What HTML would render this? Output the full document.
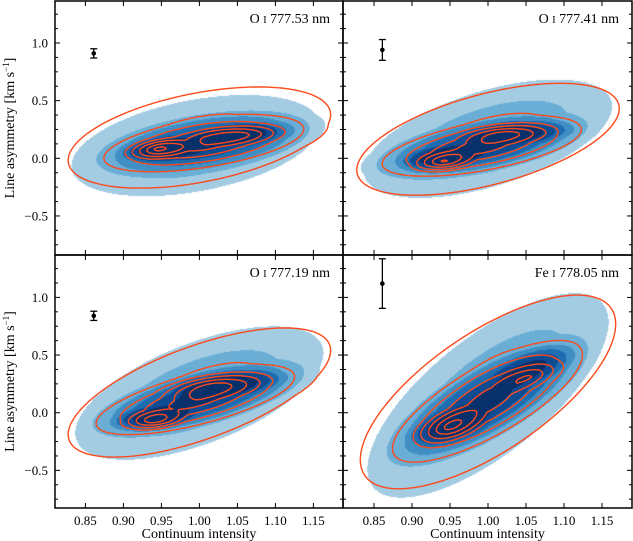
<!DOCTYPE html>
<html><head><meta charset="utf-8">
<style>
html,body{margin:0;padding:0;background:#fff;}
#wrap{position:relative;width:633px;height:541px;overflow:hidden;}
canvas,svg{position:absolute;left:0;top:0;}
text{font-family:"Liberation Serif",serif;fill:#000;}
</style></head>
<body>
<div id="wrap">
<canvas id="cv" width="633" height="541"></canvas>
<svg id="sv" width="633" height="541" xmlns="http://www.w3.org/2000/svg"></svg>
</div>
<script>
// ---- data ----
const xTicks=[0.85,0.90,0.95,1.00,1.05,1.10,1.15];
const xTickLabels=['0.85','0.90','0.95','1.00','1.05','1.10','1.15'];
const yTicks=[-0.5,0.0,0.5,1.0];
const yTickLabels=['\u22120.5','0.0','0.5','1.0'];
const titleElem=['O','O','O','Fe'];
const titleRest=['777.53 nm','777.41 nm','777.19 nm','778.05 nm'];
const errX=[0.861,0.861,0.861,0.861];
const errY=[0.91,0.94,0.84,1.12];
const errE=[0.04,0.09,0.04,0.215];
const blueLevels=[0.02,0.12,0.24,0.36,0.48,0.63];
const redLevels=[0.02,0.17,0.32,0.47,0.62,0.77,0.92,1.07];
// cone components: [cx, cy, radiusX, radiusY, rho, weight]
const blue1=[[0.995,0.11,0.175,0.47,0.4,0.3],[1.01,0.13,0.16,0.3,0.5,0.5],[0.95,0.08,0.06,0.12,0.3,0.5],[1.06,0.21,0.07,0.12,0.3,0.4]];
const red1=[[1.0,0.18,0.185,0.47,0.45,0.3],[1.01,0.12,0.16,0.27,0.55,0.5],[0.945,0.08,0.045,0.1,0.3,0.5],[1.05,0.2,0.07,0.1,0.3,0.35]];
const blue2=[[1.0,0.17,0.175,0.55,0.55,0.3],[0.99,0.1,0.16,0.3,0.6,0.5],[0.94,0.0,0.06,0.12,0.3,0.5],[1.04,0.22,0.08,0.12,0.3,0.4]];
const red2=[[1.0,0.165,0.185,0.52,0.55,0.3],[0.99,0.09,0.16,0.28,0.6,0.5],[0.941,-0.03,0.045,0.1,0.3,0.5],[1.024,0.21,0.07,0.1,0.3,0.35]];
const blue3=[[1.0,0.17,0.175,0.62,0.6,0.3],[1.0,0.12,0.16,0.35,0.7,0.5],[0.94,-0.05,0.06,0.12,0.3,0.5],[1.04,0.25,0.08,0.14,0.4,0.4]];
const red3=[[1.0,0.175,0.185,0.6,0.65,0.3],[0.995,0.1,0.16,0.33,0.7,0.5],[0.94,-0.065,0.045,0.1,0.3,0.5],[1.02,0.23,0.08,0.13,0.4,0.35]];
const blue4=[[1.0,0.15,0.17,0.95,0.72,0.3],[1.0,0.1,0.15,0.6,0.8,0.5],[0.95,-0.12,0.06,0.2,0.5,0.5],[1.06,0.4,0.06,0.2,0.6,0.35]];
const red4=[[1.0,0.18,0.18,0.9,0.7,0.3],[1.0,0.08,0.15,0.6,0.8,0.5],[0.95,-0.12,0.05,0.18,0.5,0.5],[1.054,0.31,0.05,0.15,0.6,0.3]];
const blueSets=[blue1,blue2,blue3,blue4];
const redSets=[red1,red2,red3,red4];
const blueColors=['#a3cce3','#6aaed6','#3f8fc5','#1f6db1','#0d4b92','#08306b'];

// ---- geometry ----
const panels=[
 {l:55,r:343,t:1,b:255,x0:85.4,y0:158.3},
 {l:343,r:632,t:1,b:255,x0:374,y0:158.3},
 {l:55,r:343,t:255,b:508,x0:85.4,y0:412.7},
 {l:343,r:632,t:255,b:508,x0:374,y0:412.7}];
const KX=760, KY=115.3;
function sx(p,v){return p.x0+(v-0.85)*KX;}
function sy(p,v){return p.y0-v*KY;}
function ix(p,px){return 0.85+(px-p.x0)/KX;}
function iy(p,py){return (p.y0-py)/KY;}
function field(comps,x,y){
  let s=0;
  for(const c of comps){
    const dx=(x-c[0])/c[2], dy=(y-c[1])/c[3], r=c[4];
    const d=Math.sqrt(Math.max(0,(dx*dx+dy*dy-2*r*dx*dy)/(1-r*r)));
    if(d<1) s+=c[5]*(1-d);
  }
  return s;
}
// ---- blue fill ----
const ctx=document.getElementById('cv').getContext('2d');
const img=ctx.createImageData(633,541);
function hex(h){return [parseInt(h.substr(1,2),16),parseInt(h.substr(3,2),16),parseInt(h.substr(5,2),16)];}
const bc=blueColors.map(hex);
for(let k=0;k<4;k++){
  const p=panels[k], comps=blueSets[k];
  for(let py=p.t+1;py<p.b;py++){for(let px=p.l+1;px<p.r;px++){
    const f=field(comps,ix(p,px+0.5),iy(p,py+0.5));
    let li=-1;for(let i=0;i<blueLevels.length;i++){if(f>=blueLevels[i])li=i;}
    const o=(py*633+px)*4;
    if(li<0){img.data[o]=255;img.data[o+1]=255;img.data[o+2]=255;}
    else{img.data[o]=bc[li][0];img.data[o+1]=bc[li][1];img.data[o+2]=bc[li][2];}
    img.data[o+3]=255;
  }}
}
ctx.putImageData(img,0,0);

// ---- svg ----
const NS='http://www.w3.org/2000/svg';
const sv=document.getElementById('sv');
function mk(tag,attrs,parent){const e=document.createElementNS(NS,tag);for(const a in attrs)e.setAttribute(a,attrs[a]);(parent||sv).appendChild(e);return e;}

for(let k=0;k<4;k++){
  const p=panels[k];
  const g=mk('g',{});
  
  
  const st=2, nx=Math.ceil((p.r-p.l)/st)+1, ny=Math.ceil((p.b-p.t)/st)+1;
  const V=[];
  for(let j=0;j<ny;j++){const row=[];for(let i=0;i<nx;i++){row.push(field(redSets[k],ix(p,p.l+i*st),iy(p,p.t+j*st)));}V.push(row);}
  redLevels.forEach((L,li)=>{
    let d='';
    for(let j=0;j<ny-1;j++)for(let i=0;i<nx-1;i++){
      const X=p.l+i*st, Y=p.t+j*st;
      const c=[[X,Y,V[j][i]],[X+st,Y,V[j][i+1]],[X+st,Y+st,V[j+1][i+1]],[X,Y+st,V[j+1][i]]];
      const pts=[];
      for(let e=0;e<4;e++){const a=c[e],b=c[(e+1)%4];
        if((a[2]>=L)!==(b[2]>=L)){const t=(L-a[2])/(b[2]-a[2]);pts.push([a[0]+t*(b[0]-a[0]),a[1]+t*(b[1]-a[1])]);}}
      for(let q=0;q+1<pts.length;q+=2){d+='M'+pts[q][0].toFixed(1)+' '+pts[q][1].toFixed(1)+'L'+pts[q+1][0].toFixed(1)+' '+pts[q+1][1].toFixed(1);}
    }
    const path=mk('path',{d:d,fill:'none',stroke:'#fb4a1c','stroke-width':'1.4','stroke-linecap':'round'},g);
    
    
  });
  const ex=sx(p,errX[k]), eyc=sy(p,errY[k]), e1=sy(p,errY[k]+errE[k]), e2=sy(p,errY[k]-errE[k]);
  const eb=mk('g',{stroke:'#000','stroke-width':'1.3'},g);
  
  
  mk('line',{x1:ex,y1:e1,x2:ex,y2:e2},eb);
  mk('line',{x1:ex-3.5,y1:e1,x2:ex+3.5,y2:e1},eb);
  mk('line',{x1:ex-3.5,y1:e2,x2:ex+3.5,y2:e2},eb);
  mk('circle',{cx:ex,cy:eyc,r:2.3,fill:'#000',stroke:'none'},eb);
  const fr=mk('rect',{x:p.l,y:p.t,width:p.r-p.l,height:p.b-p.t,fill:'none',stroke:'#000','stroke-width':'1.5'},g);
  
  
  const tk=mk('g',{stroke:'#000','stroke-width':'1'},g);
  
  
  xTicks.forEach(v=>{const x=sx(p,v);mk('line',{x1:x,y1:p.b,x2:x,y2:p.b-5},tk);mk('line',{x1:x,y1:p.t,x2:x,y2:p.t+5},tk);});
  for(let m=-6;m<=10;m++){const v=m*0.125;const y=sy(p,v);if(y<=p.t+1||y>=p.b-1)continue;const len=(m%4===0)?5:3;
    mk('line',{x1:p.l,y1:y,x2:p.l+len,y2:y},tk);mk('line',{x1:p.r,y1:y,x2:p.r-len,y2:y},tk);}
  const tt=mk('text',{x:p.r-13,y:p.t+22,'text-anchor':'end','font-size':'14'},g);
  
  
  const s1=mk('tspan',{},tt);s1.textContent=titleElem[k]+' ';
  const s2=mk('tspan',{'font-size':'10'},tt);s2.textContent='I';
  const s3=mk('tspan',{},tt);s3.textContent=' '+titleRest[k];
  if(k===0||k===2){
    yTicks.forEach((v,i)=>{const t=mk('text',{x:48,y:sy(p,v)+4.5,'text-anchor':'end','font-size':'13'});t.textContent=yTickLabels[i];
      
      });
    const yl=mk('text',{x:0,y:0,'text-anchor':'middle','font-size':'14',transform:'translate(14,'+((p.t+p.b)/2)+') rotate(-90)'});
    
    
    const a=mk('tspan',{},yl);a.textContent='Line asymmetry [km s';
    const b=mk('tspan',{'font-size':'9',dy:'-5'},yl);b.textContent='\u22121';
    const c=mk('tspan',{dy:'5'},yl);c.textContent=']';
  }
  if(k>=2){
    xTicks.forEach((v,i)=>{const t=mk('text',{x:sx(p,v),y:p.b+17,'text-anchor':'middle','font-size':'13'});t.textContent=xTickLabels[i];
      
      });
    const xl=mk('text',{x:(p.l+p.r)/2,y:538,'text-anchor':'middle','font-size':'14'});
    xl.textContent='Continuum intensity';
    
    
  }
}
</script>
</body></html>
